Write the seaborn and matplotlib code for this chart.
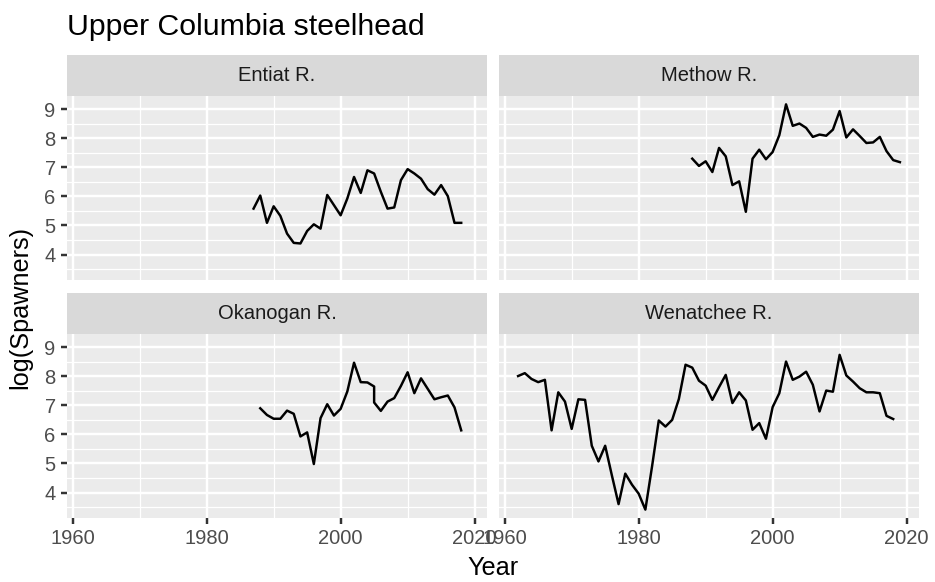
import matplotlib
matplotlib.use("Agg")
import matplotlib.pyplot as plt
from matplotlib.patches import Rectangle
from matplotlib.ticker import FixedLocator
import numpy as np
import pandas as pd
import seaborn as sns

# Spawner abundance (natural log) by river, Upper Columbia steelhead
rivers = ["Entiat R.", "Methow R.", "Okanogan R.", "Wenatchee R."]

entiat_years = list(range(1987, 2019))
entiat_log = [5.58, 6.03, 5.09, 5.66, 5.33, 4.72, 4.40, 4.38, 4.81, 5.04,
              4.89, 6.05, 5.70, 5.35, 5.93, 6.67, 6.12, 6.90, 6.79, 6.16,
              5.58, 5.62, 6.56, 6.94, 6.79, 6.61, 6.25, 6.06, 6.39, 6.01,
              5.09, 5.09]

methow_years = list(range(1988, 2020))
methow_log = [7.30, 7.05, 7.21, 6.84, 7.67, 7.38, 6.39, 6.52, 5.47, 7.30,
              7.61, 7.28, 7.53, 8.11, 9.17, 8.43, 8.51, 8.36, 8.05, 8.13,
              8.09, 8.30, 8.94, 8.03, 8.31, 8.08, 7.84, 7.86, 8.05, 7.56,
              7.25, 7.18]

okanogan_years = list(range(1988, 2006)) + list(range(2005, 2019))
okanogan_log = [6.90, 6.67, 6.54, 6.54, 6.82, 6.71, 5.93, 6.07, 4.98, 6.56,
                7.04, 6.65, 6.88, 7.48, 8.47, 7.80, 7.79, 7.65, 7.10, 6.81,
                7.13, 7.25, 7.67, 8.14, 7.42, 7.93, 7.57, 7.21, 7.28, 7.34,
                6.93, 6.14]

wenatchee_years = list(range(1962, 2019))
wenatchee_log = [8.01, 8.11, 7.91, 7.80, 7.88, 6.14, 7.45, 7.13, 6.19, 7.21,
                 7.19, 5.61, 5.07, 5.61, 4.59, 3.60, 4.65, 4.27, 3.96, 3.41,
                 4.90, 6.48, 6.27, 6.50, 7.22, 8.40, 8.30, 7.85, 7.68, 7.19,
                 7.63, 8.05, 7.08, 7.45, 7.17, 6.16, 6.39, 5.85, 6.94, 7.42,
                 8.51, 7.88, 7.99, 8.16, 7.71, 6.79, 7.51, 7.47, 8.74, 8.03,
                 7.82, 7.59, 7.45, 7.45, 7.42, 6.64, 6.53]

x_breaks = [1960, 1980, 2000, 2020]
x_minor = [1970, 1990, 2010]
y_breaks = [4, 5, 6, 7, 8, 9]
y_minor = [3.5, 4.5, 5.5, 6.5, 7.5, 8.5]

frames = []
for name, yrs, vals in [(rivers[0], entiat_years, entiat_log),
                        (rivers[1], methow_years, methow_log),
                        (rivers[2], okanogan_years, okanogan_log),
                        (rivers[3], wenatchee_years, wenatchee_log)]:
    frames.append(pd.DataFrame({"river": name, "Year": yrs, "logS": vals}))
df = pd.concat(frames, ignore_index=True)

plt.rcParams["font.family"] = ["Liberation Sans", "DejaVu Sans"]

W, H, DPI = 935, 582, 150
k = 1.1  # overall text/line scale
g = sns.FacetGrid(df, col="river", col_wrap=2, col_order=rivers,
                  sharex=True, sharey=True, despine=False)
g.map_dataframe(sns.lineplot, x="Year", y="logS", color="black",
                estimator=None, sort=False, linewidth=1.07 * k)
fig = g.figure
fig.set_size_inches(W / DPI, H / DPI)
fig.set_dpi(DPI)
fig.patch.set_facecolor("white")

# 5% expansion of the data range on both axes
xlo, xhi = df["Year"].min(), df["Year"].max()
ylo, yhi = df["logS"].min(), df["logS"].max()
xpad, ypad = 0.05 * (xhi - xlo), 0.05 * (yhi - ylo)

# panel rectangles in pixels: (left, top, right, bottom)
panel_px = {
    rivers[0]: (67, 96, 487, 280),
    rivers[1]: (499, 96, 919, 280),
    rivers[2]: (67, 334, 487, 518),
    rivers[3]: (499, 334, 919, 518),
}
strip_h = 41

for ax, name in zip(g.axes.flat, rivers):
    l, t, r, b = panel_px[name]
    ax.set_position([l / W, 1 - b / H, (r - l) / W, (b - t) / H])
    ax.set_xlim(xlo - xpad, xhi + xpad)
    ax.set_ylim(ylo - ypad, yhi + ypad)
    ax.set_facecolor("#EBEBEB")
    for s in ax.spines.values():
        s.set_visible(False)
    ax.xaxis.set_major_locator(FixedLocator(x_breaks))
    ax.xaxis.set_minor_locator(FixedLocator(x_minor))
    ax.yaxis.set_major_locator(FixedLocator(y_breaks))
    ax.yaxis.set_minor_locator(FixedLocator(y_minor))
    ax.grid(True, which="major", color="white", linewidth=1.07 * k)
    ax.grid(True, which="minor", color="white", linewidth=0.53 * k)
    ax.set_axisbelow(True)
    ax.tick_params(which="major", length=2.75 * k, width=1.07 * k,
                   color="#333333", labelsize=8.8 * k, labelcolor="#4D4D4D",
                   pad=2.2 * k)
    ax.tick_params(which="minor", length=0)
    ax.set_title("")
    ax.set_xlabel("")
    ax.set_ylabel("")
    ph = b - t
    ax.add_patch(Rectangle((0, 1), 1, strip_h / ph, transform=ax.transAxes,
                           facecolor="#D9D9D9", edgecolor="none",
                           clip_on=False))
    ax.text(0.5, 1 + strip_h / ph / 2, name, transform=ax.transAxes,
            ha="center", va="center", fontsize=8.8 * k, color="#1A1A1A")
    top_row = name in rivers[:2]
    right_col = name in (rivers[1], rivers[3])
    if top_row:
        ax.tick_params(axis="x", which="both", bottom=False, labelbottom=False)
    else:
        ax.tick_params(axis="x", which="both", labelbottom=True)
    if right_col:
        ax.tick_params(axis="y", which="both", left=False, labelleft=False)
    else:
        ax.tick_params(axis="y", which="both", labelleft=True)

fig.text(67 / W, 1 - 35 / H, "Upper Columbia steelhead", fontsize=13.2 * k,
         ha="left", va="baseline", color="black")
fig.text(493 / W, 1 - 575 / H, "Year", fontsize=11 * k, ha="center",
         va="baseline", color="black")
fig.text(20 / W, 1 - 307 / H, "log(Spawners)", fontsize=11 * k, ha="center",
         va="center", rotation=90, color="black")

fig.savefig("out.png", dpi=DPI)
